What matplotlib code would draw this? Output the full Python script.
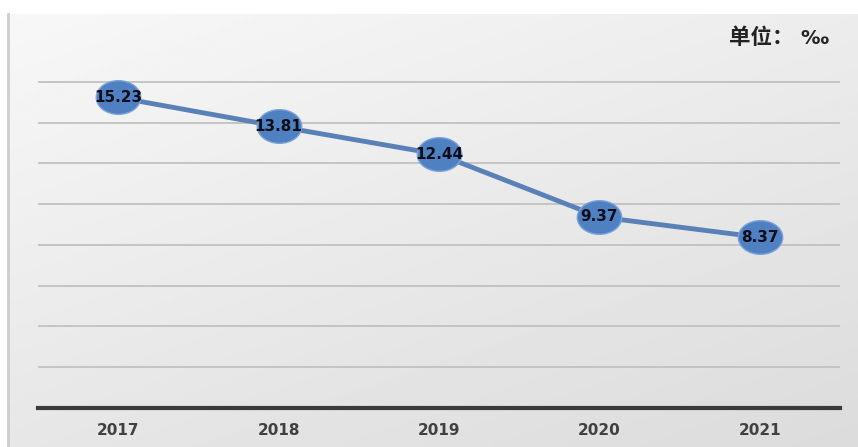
import matplotlib.pyplot as plt
import numpy as np
from matplotlib.path import Path

plt.rcParams['font.family'] = ['Noto Sans CJK SC', 'DejaVu Sans']

years = ['2017', '2018', '2019', '2020', '2021']
rates = [15.23, 13.81, 12.44, 9.37, 8.37]
unit_label = '单位：'
unit_sign = '‰'

fig = plt.figure(figsize=(8.58, 4.47), dpi=100)

# grey gradient panel behind the chart
bg = fig.add_axes([0, 0, 1, 1], zorder=0)
bg.set_xlim(0, 858)
bg.set_ylim(447, 0)
bg.axis('off')
gx, gy = np.meshgrid(np.linspace(0, 1, 300), np.linspace(0, 1, 160))
shade = 0.97 - 0.11 * (0.6 * gy + 0.4 * gx)
bg.imshow(shade, cmap='gray', vmin=0, vmax=1, extent=(8, 858, 447, 14),
          aspect='auto', interpolation='bilinear')
bg.plot([8, 8], [14, 447], color='#cdcdcd', lw=2)

ax = fig.add_axes([38 / 858, 39 / 447, 802 / 858, 367 / 447], zorder=1)
ax.patch.set_alpha(0)
x = np.arange(len(years))
ax.set_xlim(-0.5, len(years) - 0.5)
ax.set_ylim(0, 18)
ax.set_yticks(np.arange(2, 17, 2))
ax.yaxis.grid(True, color='#c4c4c4', lw=1.4)
ax.set_axisbelow(True)
for s in ['top', 'right', 'left']:
    ax.spines[s].set_visible(False)
ax.spines['bottom'].set_color('#3a3a3a')
ax.spines['bottom'].set_linewidth(3)
ax.tick_params(left=False, labelleft=False, bottom=False, pad=7)
ax.set_xticks(x)
ax.set_xticklabels(years, fontsize=11, fontweight='bold', color='#404040',
                   family='DejaVu Sans')

circle = Path.unit_circle()
ellipse = Path(circle.vertices * np.array([1.32, 1.0]), circle.codes)
ax.plot(x, rates, color='#5a80b8', lw=3.5, marker=ellipse, markersize=32,
        markerfacecolor='#4f81c2', markeredgecolor='#7aa3d8', markeredgewidth=1,
        zorder=3)
for xi, v in zip(x, rates):
    ax.text(xi, v, f'{v:.2f}', ha='center', va='center', fontsize=11,
            fontweight='bold', color='#0d0d1a', family='DejaVu Sans', zorder=4)

fig.text(794 / 858, 1 - 38 / 447, unit_label, ha='right', va='center',
         fontsize=15.5, fontweight='bold', color='#222222', zorder=5)
fig.text(800 / 858, 1 - 39 / 447, unit_sign, ha='left', va='center',
         fontsize=14, fontweight='bold', color='#222222', family='DejaVu Sans',
         zorder=5)

fig.savefig('out.png', dpi=100)
